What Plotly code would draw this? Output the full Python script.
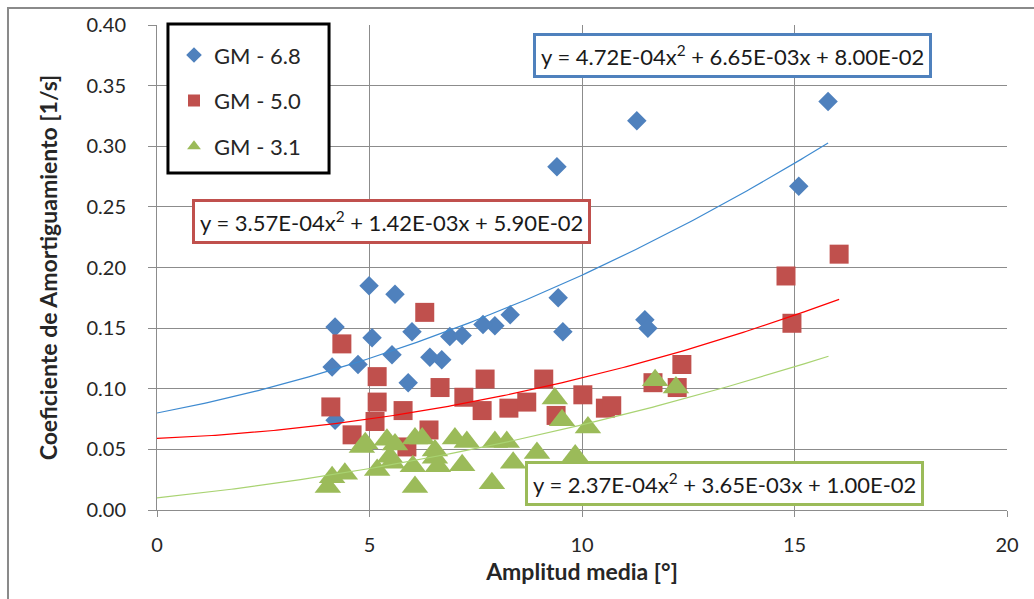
import numpy as np
import plotly.graph_objects as go

# Measured damping coefficients for three metacentric heights
gm68_x = [4.99, 5.60, 4.19, 5.06, 6.00, 6.89, 7.18, 4.12, 4.73, 5.53, 6.42, 6.70, 5.91, 4.19,
          9.44, 9.55, 8.31, 7.95, 7.67, 9.41, 11.29, 15.10, 15.79, 11.48, 11.55]
gm68_y = [0.185, 0.178, 0.151, 0.142, 0.147, 0.143, 0.144, 0.118, 0.120, 0.128, 0.126, 0.124, 0.105, 0.074,
          0.175, 0.147, 0.161, 0.152, 0.153, 0.283, 0.321, 0.267, 0.337, 0.157, 0.150]

gm50_x = [6.30, 4.35, 5.18, 5.18, 5.13, 4.09, 4.59, 5.79, 5.88, 6.66, 6.40, 7.22, 7.65, 7.72,
          8.28, 8.70, 9.10, 9.39, 10.02, 10.55, 10.70, 11.67, 12.24, 12.35, 14.80, 14.94, 16.05]
gm50_y = [0.163, 0.137, 0.110, 0.089, 0.073, 0.085, 0.062, 0.082, 0.052, 0.101, 0.066, 0.093, 0.082, 0.108,
          0.084, 0.089, 0.108, 0.078, 0.095, 0.084, 0.086, 0.105, 0.101, 0.120, 0.193, 0.154, 0.211]

gm31_x = [4.02, 4.12, 4.42, 4.82, 4.90, 5.18, 5.41, 5.48, 5.53, 5.60, 6.02, 6.07, 6.07, 6.24, 6.54, 6.54,
          6.61, 7.01, 7.18, 7.29, 7.88, 7.95, 8.23, 8.38, 8.94, 9.36, 9.53, 9.84, 10.14, 11.72, 12.21]
gm31_y = [0.019, 0.027, 0.030, 0.052, 0.055, 0.033, 0.058, 0.044, 0.039, 0.054, 0.036, 0.059, 0.019, 0.059, 0.049, 0.043,
          0.036, 0.059, 0.037, 0.056, 0.022, 0.056, 0.056, 0.039, 0.047, 0.092, 0.074, 0.045, 0.068, 0.107, 0.101]

# Polynomial (2nd order) trendline coefficients [a, b, c] for y = a x^2 + b x + c
fit68 = [4.72e-04, 6.65e-03, 8.00e-02]
fit50 = [3.57e-04, 1.42e-03, 5.90e-02]
fit31 = [2.37e-04, 3.65e-03, 1.00e-02]
fit_xmax = [15.79, 16.05, 15.80]

fit_labels = [
    "y = 4.72E-04x<sup>2</sup> + 6.65E-03x + 8.00E-02",
    "y = 3.57E-04x<sup>2</sup> + 1.42E-03x + 5.90E-02",
    "y = 2.37E-04x<sup>2</sup> + 3.65E-03x + 1.00E-02",
]
series_names = ["GM - 6.8", "GM - 5.0", "GM - 3.1"]

BLUE, RED, GREEN = "#4F81BD", "#C0504D", "#9BBB59"
FONT = "Lato"
TXT = "#262626"

fig = go.Figure()

marker_specs = [
    (gm68_x, gm68_y, "diamond", 15, BLUE),
    (gm50_x, gm50_y, "square", 19, RED),
    (gm31_x, gm31_y, "triangle-up", 23, GREEN),
]
for i, (xs, ys, sym, size, col) in enumerate(marker_specs):
    fig.add_trace(go.Scatter(
        x=xs, y=ys, mode="markers", name=series_names[i],
        legendgroup=f"g{i}",
        marker=dict(symbol=sym, size=size, color=col, line=dict(width=0)),
    ))

line_cols = ["#3E8AD0", "#FF0000", "#A9D372"]
for coef, xmax, col in zip([fit68, fit50, fit31], fit_xmax, line_cols):
    xs = np.linspace(0, xmax, 200)
    ys = coef[0] * xs**2 + coef[1] * xs + coef[2]
    fig.add_trace(go.Scatter(x=xs, y=ys, mode="lines", showlegend=False,
                             line=dict(color=col, width=1.2), hoverinfo="skip"))

# Equation boxes
box_pos = [(13.53, 0.375), (5.51, 0.238), (13.36, 0.0219)]
for text, (bx, by), col in zip(fit_labels, box_pos, [BLUE, RED, GREEN]):
    fig.add_annotation(x=bx, y=by, xref="x", yref="y", text=text, showarrow=False,
                       xanchor="center", yanchor="middle",
                       font=dict(family=FONT, size=22, color="#1a1a1a"),
                       bgcolor="white", bordercolor=col, borderwidth=3, borderpad=5)

# Outer chart frame
fig.add_shape(type="rect", xref="paper", yref="paper",
              x0=-0.1753, x1=1.05, y0=-0.25, y1=1.035,
              line=dict(color="#8A8A8A", width=2), fillcolor="rgba(0,0,0,0)", layer="below")

# Legend frame (black box behind the legend entries)
fig.add_shape(type="rect", xref="paper", yref="paper",
              x0=0.0129, x1=0.2024, y0=0.6948, y1=1.0021,
              line=dict(color="black", width=3), fillcolor="white", layer="above")

grid = "#8C8C8C"
fig.update_layout(
    width=1034, height=599,
    margin=dict(l=157, r=27, t=25, b=89),
    paper_bgcolor="white", plot_bgcolor="white",
    font=dict(family=FONT, size=20, color=TXT),
    showlegend=True,
    legend=dict(x=0.0200, y=0.981, xanchor="left", yanchor="top",
                borderwidth=0, bgcolor="rgba(0,0,0,0)",
                itemsizing="constant", tracegroupgap=14,
                font=dict(family=FONT, size=22, color=TXT)),
    xaxis=dict(range=[0, 20], dtick=5, tick0=0, showgrid=True, gridcolor=grid, gridwidth=1,
               showline=True, linecolor=grid, linewidth=1, zeroline=False,
               ticks="outside", ticklen=6, tickcolor=grid, ticklabelstandoff=11,
               title=dict(text="<b>Amplitud media [°]</b>", font=dict(family=FONT, size=23, color=TXT),
                          standoff=8)),
    yaxis=dict(range=[0, 0.40], dtick=0.05, tick0=0, tickformat=".2f", showgrid=True,
               gridcolor=grid, gridwidth=1, showline=True, linecolor=grid, linewidth=1, zeroline=False,
               ticks="outside", ticklen=8, tickcolor=grid, ticklabelstandoff=18,
               title=dict(text="<b>Coeficiente de Amortiguamiento [1/s]</b>",
                          font=dict(family=FONT, size=23, color=TXT), standoff=22)),
)

fig.write_html("out.html")
